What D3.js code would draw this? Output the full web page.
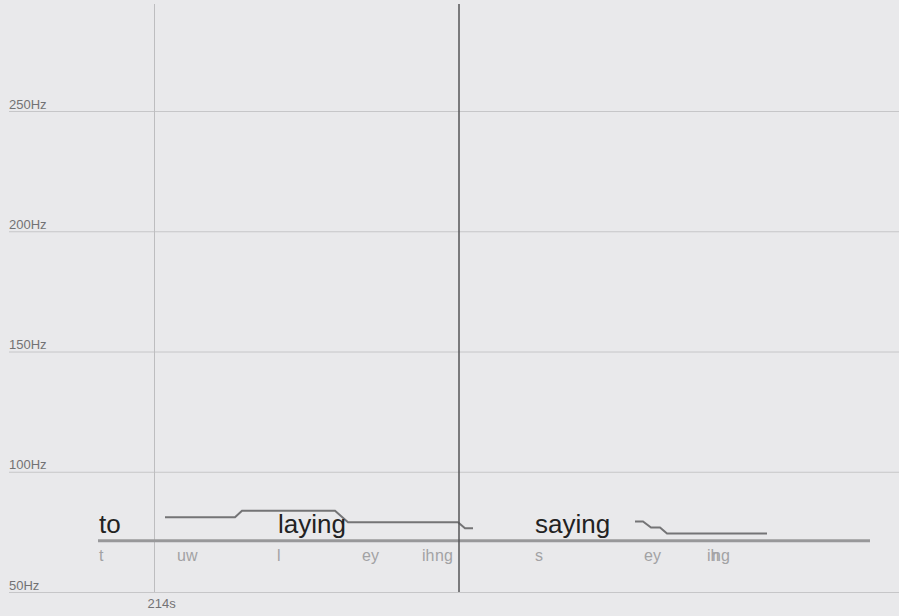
<!DOCTYPE html>
<html><head><meta charset="utf-8">
<script src="https://cdn.jsdelivr.net/npm/d3@7"></script>
<style>
html,body{margin:0;padding:0;background:#e9e9eb;}
svg{display:block;font-family:"Liberation Sans",Arial,Helvetica,sans-serif;}
</style></head>
<body>
<script>
// ---- data ----
const hzTicks = [50, 100, 150, 200, 250];
const timeTicks = [214];
const cursorTime = 214.61;
const baselineHz = 71.3;
const baselineSpan = [213.888, 215.432];
const words = ["to", "laying", "saying"];
const wordTimes = [213.89, 214.248, 214.762];
const phones = ["t", "uw", "l", "ey", "ih", "ng", "s", "ey", "ih", "ng"];
const phoneTimes = [213.89, 214.046, 214.246, 214.416, 214.536, 214.562, 214.762, 214.98, 215.106, 215.116];
const pitch1Times = [214.022, 214.162, 214.176, 214.362, 214.388, 214.608, 214.622, 214.638];
const pitch1Hz    = [81.1, 81.1, 83.8, 83.8, 79.0, 79.0, 76.5, 76.5];
const pitch2Times = [214.962, 214.978, 214.994, 215.012, 215.026, 215.226];
const pitch2Hz    = [79.3, 79.3, 76.8, 76.8, 74.3, 74.3];

// ---- chart ----
const W = 899, H = 616;
const svg = d3.select("body").append("svg").attr("width", W).attr("height", H);
svg.append("rect").attr("width", W).attr("height", H).attr("fill", "#e9e9eb");

const x = d3.scaleLinear().domain([213.7, 215.49]).range([4, 899]);
const y = d3.scaleLinear().domain([50, 250]).range([592, 111]);
const topY = 4;

// horizontal grid + labels
const yAxis = d3.axisLeft(y).tickValues(hzTicks).tickSize(-(W - 9)).tickFormat(d => d + "Hz");
const gy = svg.append("g").attr("transform", "translate(9,0)").call(yAxis);
gy.select(".domain").remove();
gy.selectAll(".tick line").attr("stroke", "#c6c6c8").attr("stroke-width", 1);
gy.selectAll(".tick text")
  .attr("x", 0).attr("dy", "-3").attr("text-anchor", "start")
  .attr("fill", "#727274").attr("font-size", 13);

// vertical time grid
const xAxis = d3.axisBottom(x).tickValues(timeTicks).tickSize(-(y(50) - topY)).tickFormat(d => d + "s");
const gx = svg.append("g").attr("transform", `translate(0,${y(50)})`).call(xAxis);
gx.select(".domain").remove();
gx.selectAll(".tick line").attr("stroke", "#bdbdbf").attr("stroke-width", 1);
gx.selectAll(".tick text")
  .attr("y", 16).attr("dy", 0).attr("text-anchor", "start").attr("x", -7)
  .attr("fill", "#727274").attr("font-size", 13);

// baseline
svg.append("line")
  .attr("x1", x(baselineSpan[0])).attr("x2", x(baselineSpan[1]))
  .attr("y1", y(baselineHz)).attr("y2", y(baselineHz))
  .attr("stroke", "#98989a").attr("stroke-width", 3);

// pitch lines
const line = d3.line().x(d => x(d[0])).y(d => y(d[1]));
[[pitch1Times, pitch1Hz], [pitch2Times, pitch2Hz]].forEach(([ts, hs]) => {
  svg.append("path")
    .datum(ts.map((t, i) => [t, hs[i]]))
    .attr("d", line).attr("fill", "none")
    .attr("stroke", "#747476").attr("stroke-width", 2);
});

// words
svg.append("g").selectAll("text").data(words).join("text")
  .attr("x", (d, i) => x(wordTimes[i]))
  .attr("y", y(baselineHz) - 8)
  .attr("font-size", 26).attr("fill", "#222")
  .text(d => d);

// phones
svg.append("g").selectAll("text").data(phones).join("text")
  .attr("x", (d, i) => x(phoneTimes[i]))
  .attr("y", y(baselineHz) + 20)
  .attr("font-size", 16).attr("fill", "#a2a2a4")
  .text(d => d);

// cursor
svg.append("line")
  .attr("x1", x(cursorTime)).attr("x2", x(cursorTime))
  .attr("y1", topY).attr("y2", y(50))
  .attr("stroke", "#555557").attr("stroke-width", 1.5);
</script>
</body></html>
